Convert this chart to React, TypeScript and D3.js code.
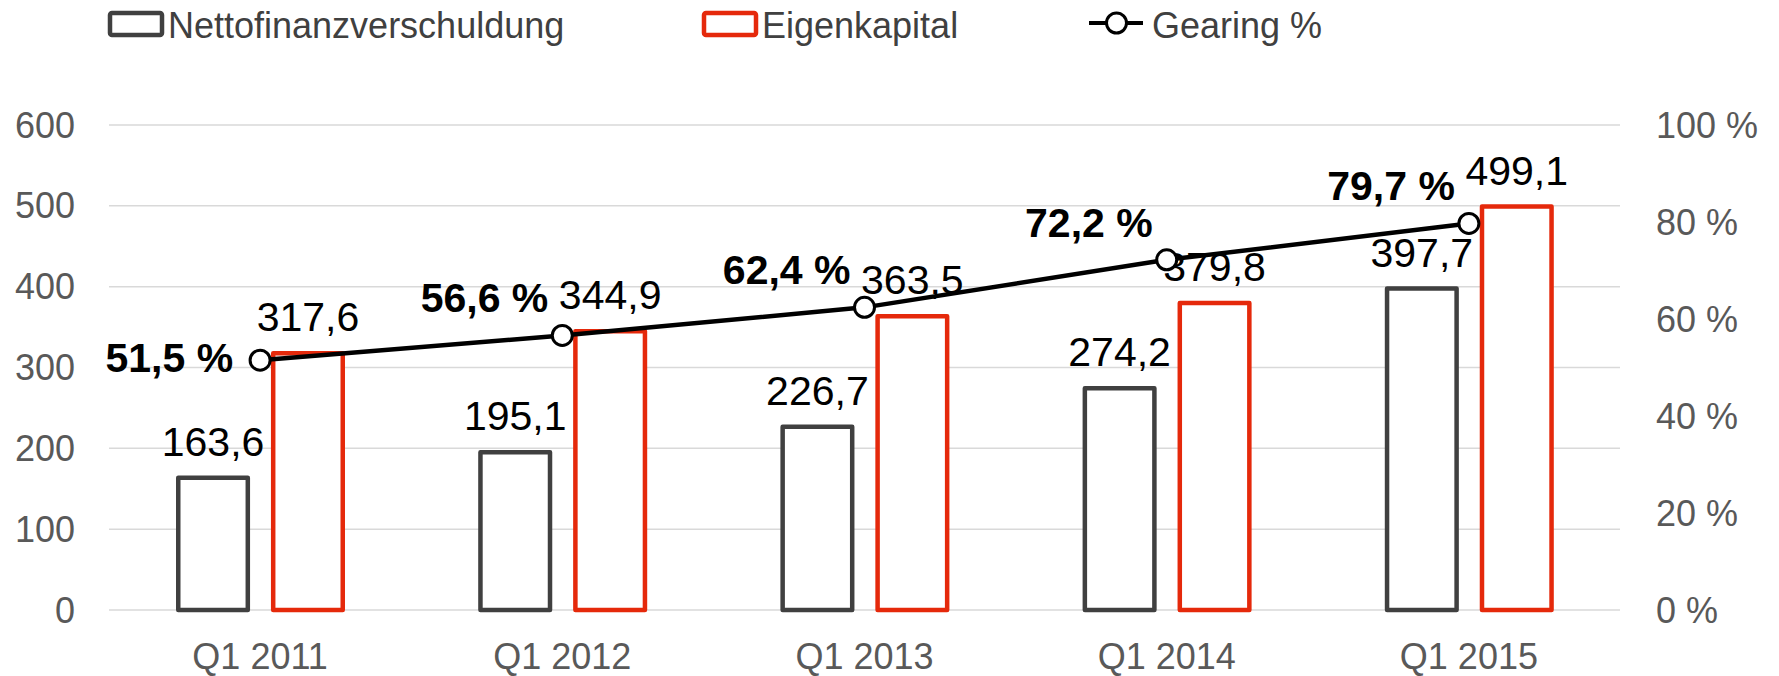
import { useEffect, useRef } from 'react'
import * as d3 from 'd3'

const quarters = ['Q1 2011', 'Q1 2012', 'Q1 2013', 'Q1 2014', 'Q1 2015']
const nettofinanz = [163.6, 195.1, 226.7, 274.2, 397.7]
const eigenkapital = [317.6, 344.9, 363.5, 379.8, 499.1]
const gearing = [51.5, 56.6, 62.4, 72.2, 79.7]
const leftTicks = [0, 100, 200, 300, 400, 500, 600]
const rightTicks = [0, 20, 40, 60, 80, 100]

const FONT = '"Liberation Sans", Arial, Helvetica, sans-serif'
const DARK = '#404040'
const RED = '#e5290b'
const GRID = '#d9d9d9'
const AXIS_TEXT = '#595959'

const de = d3.formatLocale({ decimal: ',', thousands: '.', grouping: [3], currency: ['', ' €'] })
const fmt1 = de.format('.1f')

function App() {
  const ref = useRef<SVGSVGElement | null>(null)

  useEffect(() => {
    if (!ref.current) return
    const width = 1779, height = 676
    const plot = { left: 109, right: 1620, top: 125, bottom: 610 }

    const svg = d3.select(ref.current)
    svg.selectAll('*').remove()
    svg.attr('width', width).attr('height', height).style('font-family', FONT)

    const x0 = d3.scaleBand<string>()
      .domain(quarters)
      .range([plot.left, plot.right])
      .padding(0)

    const x1 = d3.scaleBand<string>()
      .domain(['netto', 'eigen'])
      .range([67, 236])
      .paddingInner(0.22)

    const yL = d3.scaleLinear().domain([0, 600]).range([plot.bottom, plot.top])
    const yR = d3.scaleLinear().domain([0, 100]).range([plot.bottom, plot.top])

    // gridlines
    svg.append('g')
      .selectAll('line')
      .data(leftTicks)
      .join('line')
      .attr('x1', plot.left)
      .attr('x2', plot.right)
      .attr('y1', d => yL(d))
      .attr('y2', d => yL(d))
      .attr('stroke', GRID)
      .attr('stroke-width', 1.5)

    // left axis labels
    svg.append('g')
      .selectAll('text')
      .data(leftTicks)
      .join('text')
      .attr('x', 75)
      .attr('y', d => yL(d))
      .attr('dy', '0.35em')
      .attr('text-anchor', 'end')
      .attr('fill', AXIS_TEXT)
      .style('font-size', '36px')
      .text(d => d)

    // right axis labels
    svg.append('g')
      .selectAll('text')
      .data(rightTicks)
      .join('text')
      .attr('x', 1656)
      .attr('y', d => yR(d))
      .attr('dy', '0.35em')
      .attr('fill', AXIS_TEXT)
      .style('font-size', '36px')
      .text(d => `${d} %`)

    // category labels
    svg.append('g')
      .selectAll('text')
      .data(quarters)
      .join('text')
      .attr('x', d => x0(d)! + x0.bandwidth() / 2)
      .attr('y', 669)
      .attr('text-anchor', 'middle')
      .attr('fill', AXIS_TEXT)
      .style('font-size', '36px')
      .text(d => d)

    const sw = 4.5
    const barSeries = [
      { key: 'netto', values: nettofinanz, color: DARK },
      { key: 'eigen', values: eigenkapital, color: RED }
    ]

    barSeries.forEach(s => {
      const g = svg.append('g')
      g.selectAll('rect')
        .data(s.values)
        .join('rect')
        .attr('x', (d, i) => x0(quarters[i])! + x1(s.key)! + sw / 2)
        .attr('width', x1.bandwidth() - sw)
        .attr('y', d => yL(d))
        .attr('height', d => yL(0) - yL(d))
        .attr('fill', 'white')
        .attr('stroke', s.color)
        .attr('stroke-width', sw)
        .attr('stroke-linejoin', 'round')

      g.selectAll('text')
        .data(s.values)
        .join('text')
        .attr('x', (d, i) => x0(quarters[i])! + x1(s.key)! + x1.bandwidth() / 2)
        .attr('y', d => yL(d) - 22)
        .attr('text-anchor', 'middle')
        .attr('fill', '#000')
        .style('font-size', '41px')
        .text(d => fmt1(d))
    })

    // gearing line
    const px = (i: number) => x0(quarters[i])! + x0.bandwidth() / 2
    const line = d3.line<number>()
      .x((d, i) => px(i))
      .y(d => yR(d))

    svg.append('path')
      .datum(gearing)
      .attr('fill', 'none')
      .attr('stroke', '#000')
      .attr('stroke-width', 4.5)
      .attr('d', line)

    svg.append('g')
      .selectAll('circle')
      .data(gearing)
      .join('circle')
      .attr('cx', (d, i) => px(i))
      .attr('cy', d => yR(d))
      .attr('r', 10)
      .attr('fill', 'white')
      .attr('stroke', '#000')
      .attr('stroke-width', 3)

    // first label sits left of its point, the rest above-left
    svg.append('g')
      .selectAll('text')
      .data(gearing)
      .join('text')
      .attr('x', (d, i) => px(i) - (i === 0 ? 27 : 14))
      .attr('y', d => yR(d))
      .attr('dy', (d, i) => (i === 0 ? 12 : -23))
      .attr('text-anchor', 'end')
      .attr('fill', '#000')
      .style('font-size', '41px')
      .style('font-weight', 'bold')
      .text(d => `${fmt1(d)} %`)

    // legend
    const legend = svg.append('g')
    const legendItems = [
      { label: 'Nettofinanzverschuldung', color: DARK, type: 'bar', x: 108 },
      { label: 'Eigenkapital', color: RED, type: 'bar', x: 702 },
      { label: 'Gearing %', color: '#000', type: 'line', x: 1089 }
    ]
    legendItems.forEach(item => {
      const g = legend.append('g').attr('transform', `translate(${item.x},0)`)
      if (item.type === 'bar') {
        g.append('rect')
          .attr('x', 2)
          .attr('y', 13)
          .attr('width', 52)
          .attr('height', 22)
          .attr('rx', 2)
          .attr('fill', 'white')
          .attr('stroke', item.color)
          .attr('stroke-width', 4.5)
      } else {
        g.append('line')
          .attr('x1', 0)
          .attr('x2', 54)
          .attr('y1', 23)
          .attr('y2', 23)
          .attr('stroke', item.color)
          .attr('stroke-width', 4)
        g.append('circle')
          .attr('cx', 27.5)
          .attr('cy', 23)
          .attr('r', 10)
          .attr('fill', 'white')
          .attr('stroke', item.color)
          .attr('stroke-width', 3)
      }
      g.append('text')
        .attr('x', item.type === 'bar' ? 60 : 63)
        .attr('y', 37.5)
        .attr('fill', DARK)
        .style('font-size', '36px')
        .text(item.label)
    })
  }, [])

  return (
    <div style={{ position: 'absolute', left: 0, top: 0 }}>
      <svg ref={ref}></svg>
    </div>
  )
}

export default App
